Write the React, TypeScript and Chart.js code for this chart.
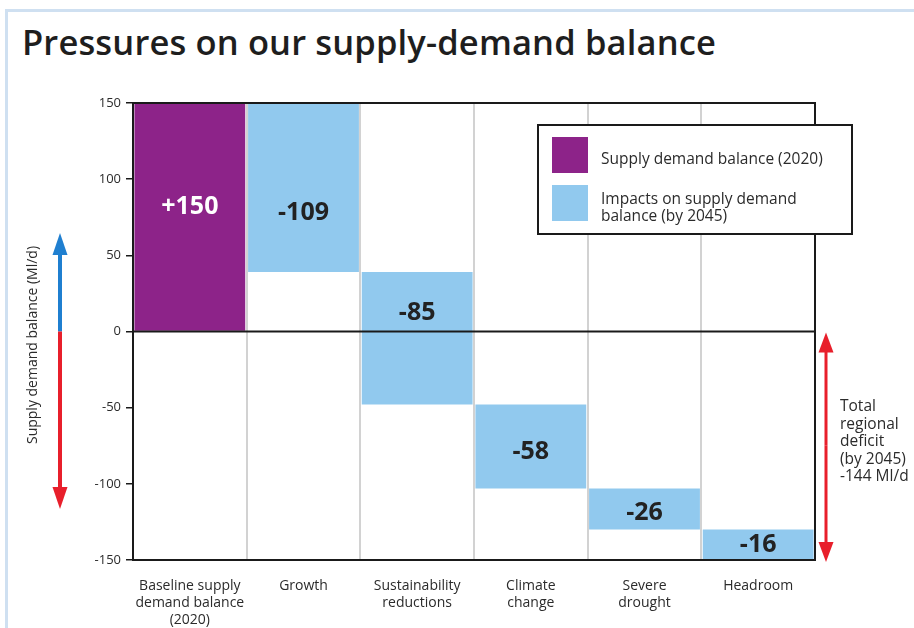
import React, { useEffect, useRef } from "react";
import { Chart, registerables } from "chart.js";
Chart.register(...registerables);

const categories: string[][] = [
  ["Baseline supply", "demand balance", "(2020)"],
  ["Growth"],
  ["Sustainability", "reductions"],
  ["Climate", "change"],
  ["Severe", "drought"],
  ["Headroom"],
];
const barStarts = [0, 150, 39, -48, -103, -130];
const barEnds = [150, 39, -48, -103, -130, -150];
const valueLabels = ["+150", "-109", "-85", "-58", "-26", "-16"];
const labelAnchors = [82, 78, 12, -79, -119, -140];
const yMin = -150;
const yMax = 150;
const yStep = 50;
const legendItems: string[][] = [
  ["Supply demand balance (2020)"],
  ["Impacts on supply demand", "balance (by 2045)"],
];
const deficitNote = ["Total", "regional", "deficit", "(by 2045)", "-144 Ml/d"];
const yAxisTitle = "Supply demand balance (Ml/d)";
const titleText = "Pressures on our supply-demand balance";

const PURPLE = "#8d2389";
const BLUE = "#91c9ee";
const RED = "#e81f2b";
const ARROW_BLUE = "#1f7fd0";
const TEXT = "#2b2b2b";
const FONT = "'Open Sans', sans-serif";

function drawArrow(ctx: CanvasRenderingContext2D, x: number, y0: number, y1: number, color: string, lw: number, hw: number, hl: number) {
  const dir = y1 > y0 ? 1 : -1;
  ctx.save();
  ctx.strokeStyle = color;
  ctx.fillStyle = color;
  ctx.lineWidth = lw;
  ctx.beginPath();
  ctx.moveTo(x, y0);
  ctx.lineTo(x, y1 - dir * hl * 0.8);
  ctx.stroke();
  ctx.beginPath();
  ctx.moveTo(x, y1);
  ctx.lineTo(x - hw / 2, y1 - dir * hl);
  ctx.lineTo(x + hw / 2, y1 - dir * hl);
  ctx.closePath();
  ctx.fill();
  ctx.restore();
}

const decorPlugin = {
  id: "decor",
  afterDatasetsDraw(chart: any) {
    const ctx: CanvasRenderingContext2D = chart.ctx;
    const { left, right, top, bottom } = chart.chartArea;
    const ys = chart.scales.y;
    const xs = chart.scales.x;
    ctx.save();
    const y0 = ys.getPixelForValue(0);
    ctx.strokeStyle = "#1a1a1a";
    ctx.lineWidth = 2;
    ctx.beginPath();
    ctx.moveTo(left, y0);
    ctx.lineTo(right, y0);
    ctx.stroke();
    ctx.strokeRect(left, top, right - left, bottom - top);
    ctx.font = `700 25px ${FONT}`;
    ctx.textAlign = "center";
    ctx.textBaseline = "middle";
    valueLabels.forEach((t, i) => {
      ctx.fillStyle = i === 0 ? "#ffffff" : "#222222";
      ctx.fillText(t, xs.getPixelForValue(i), ys.getPixelForValue(labelAnchors[i]));
    });
    const lx = 538, ly = 125, lw = 314, lh = 109;
    ctx.fillStyle = "#ffffff";
    ctx.fillRect(lx, ly, lw, lh);
    ctx.strokeStyle = "#1a1a1a";
    ctx.lineWidth = 2;
    ctx.strokeRect(lx, ly, lw, lh);
    const colors = [PURPLE, BLUE];
    const swY = [137, 185];
    ctx.font = `400 15.5px ${FONT}`;
    ctx.textAlign = "left";
    legendItems.forEach((lines, i) => {
      ctx.fillStyle = colors[i];
      ctx.fillRect(552, swY[i], 36, 36);
      ctx.fillStyle = TEXT;
      const startY = i === 0 ? 160 : 200;
      lines.forEach((ln, j) => ctx.fillText(ln, 601, startY + j * 17));
    });
    ctx.restore();
  },
  afterDraw(chart: any) {
    const ctx: CanvasRenderingContext2D = chart.ctx;
    const ys = chart.scales.y;
    const { bottom } = chart.chartArea;
    const y0 = ys.getPixelForValue(0);
    drawArrow(ctx, 60, y0, 233, ARROW_BLUE, 4, 15, 22);
    drawArrow(ctx, 60, y0, 509, RED, 4, 15, 22);
    drawArrow(ctx, 826, (y0 + bottom) / 2, y0 + 1, RED, 3, 15, 20);
    drawArrow(ctx, 826, (y0 + bottom) / 2, bottom + 2, RED, 3, 15, 20);
    ctx.save();
    ctx.fillStyle = TEXT;
    ctx.font = `400 15.5px ${FONT}`;
    ctx.textAlign = "left";
    ctx.textBaseline = "middle";
    deficitNote.forEach((t, i) => ctx.fillText(t, 840, 407 + i * 17.5));
    ctx.translate(33, 345);
    ctx.rotate(-Math.PI / 2);
    ctx.textAlign = "center";
    ctx.font = `400 14px ${FONT}`;
    ctx.fillText(yAxisTitle, 0, 0);
    ctx.restore();
  },
};

export default function App() {
  const ref = useRef<HTMLCanvasElement>(null);
  useEffect(() => {
    if (!ref.current) return;
    const chart = new Chart(ref.current, {
      type: "bar",
      data: {
        labels: categories as any,
        datasets: [
          {
            data: barStarts.map((s, i) => [s, barEnds[i]]) as any,
            backgroundColor: barStarts.map((_, i) => (i === 0 ? PURPLE : BLUE)),
            borderWidth: 0,
            barPercentage: 0.975,
            categoryPercentage: 1,
          },
        ],
      },
      options: {
        animation: false,
        responsive: false,
        maintainAspectRatio: false,
        layout: { padding: { left: 0, top: 103, right: 99, bottom: 0 } },
        plugins: { legend: { display: false }, tooltip: { enabled: false }, title: { display: false } },
        scales: {
          x: {
            offset: true,
            grid: { offset: true, color: "#d2d2d2", lineWidth: 2, drawTicks: false },
            border: { display: true, color: "#1a1a1a", width: 2 },
            ticks: { color: TEXT, font: { family: FONT, size: 14 }, padding: 18, maxRotation: 0, autoSkip: false },
            afterFit: (s: any) => { s.height = 68; },
          },
          y: {
            min: yMin,
            max: yMax,
            ticks: { stepSize: yStep, color: TEXT, font: { family: FONT, size: 13 }, padding: 5 },
            grid: { drawOnChartArea: false, drawTicks: true, tickLength: 7, color: "#1a1a1a", lineWidth: 1.5 },
            border: { display: true, color: "#1a1a1a", width: 2 },
            afterFit: (s: any) => { s.width = 133; },
          },
        },
      },
      plugins: [decorPlugin],
    });
    return () => chart.destroy();
  }, []);
  return (
    <div style={{ position: "fixed", left: 0, top: 0, width: 914, height: 628, background: "#fff", overflow: "hidden" }}>
      <div style={{ position: "absolute", left: 5, top: 9, width: 940, height: 660, borderTop: "3px solid #cfe0f1", borderLeft: "3px solid #cfe0f1" }} />
      <div style={{ position: "absolute", left: 22, top: 20, fontFamily: FONT, fontWeight: 600, fontSize: 34.5, letterSpacing: 0.15, color: "#1e1e1e", whiteSpace: "nowrap", lineHeight: "44px" }}>
        {titleText}
      </div>
      <canvas ref={ref} width={914} height={628} style={{ position: "absolute", left: 0, top: 0 }} />
    </div>
  );
}
